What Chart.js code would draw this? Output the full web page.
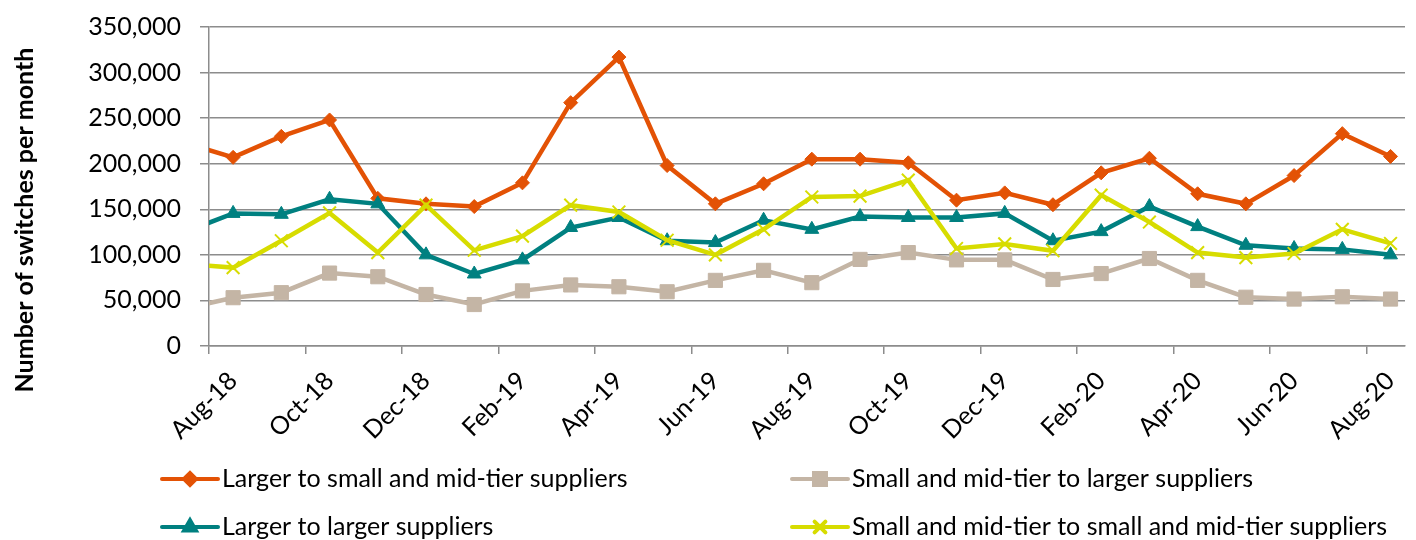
<!DOCTYPE html>
<html>
<head>
<meta charset="utf-8">
<script src="https://cdn.jsdelivr.net/npm/chart.js@4.4.1/dist/chart.umd.min.js"></script>
<style>
  html, body { margin: 0; padding: 0; background: #fff; }
  #wrap { width: 1416px; height: 540px; position: relative; }
</style>
</head>
<body>
<div id="wrap"><canvas id="myChart"></canvas></div>
<script>
// months of data (Jul-18 sits just left of the axis and gets clipped)
const months = ['Jul-18', 'Aug-18', 'Sep-18', 'Oct-18', 'Nov-18', 'Dec-18',
  'Jan-19', 'Feb-19', 'Mar-19', 'Apr-19', 'May-19', 'Jun-19', 'Jul-19', 'Aug-19',
  'Sep-19', 'Oct-19', 'Nov-19', 'Dec-19', 'Jan-20', 'Feb-20', 'Mar-20', 'Apr-20',
  'May-20', 'Jun-20', 'Jul-20', 'Aug-20'];

const largerToSmall = [223000, 207000, 230000, 248000, 162000, 156000, 153000, 179000,
  267000, 317000, 198000, 156000, 178000, 205000, 205000, 201000, 160000, 168000,
  155000, 190000, 206000, 167000, 156000, 187000, 233000, 208000];
const smallToLarger = [41000, 53000, 58500, 80000, 76000, 56500, 45500, 60500,
  67000, 65000, 59500, 72000, 83000, 69500, 95000, 102500, 94500, 94500,
  73000, 79500, 96000, 72000, 53500, 51500, 54000, 51500];
const largerToLarger = [125000, 145500, 144500, 161000, 156000, 100000, 79000, 94500,
  130000, 141000, 115500, 113500, 138000, 128000, 142000, 141000, 141000, 145500,
  115500, 125500, 153000, 131000, 110500, 107000, 106000, 100000];
const smallToSmall = [90000, 86000, 115500, 146000, 102500, 154500, 105000, 120500,
  154500, 147000, 116000, 100000, 128000, 163500, 164500, 182000, 107000, 112000,
  104500, 165500, 136000, 102500, 97000, 101500, 128000, 112500];

const tickLabels = ['Aug-18', 'Oct-18', 'Dec-18', 'Feb-19', 'Apr-19', 'Jun-19',
  'Aug-19', 'Oct-19', 'Dec-19', 'Feb-20', 'Apr-20', 'Jun-20', 'Aug-20'];
const seriesNames = ['Larger to small and mid-tier suppliers', 'Small and mid-tier to larger suppliers',
  'Larger to larger suppliers', 'Small and mid-tier to small and mid-tier suppliers'];

const FONT = 'Lato, "Liberation Sans", sans-serif';
const gridColor = '#8c8c8c';

// x axis is months since Aug-18 start, points sit mid-month
const toPoints = vals => vals.map((v, i) => ({ x: i - 1 + 0.5, y: v }));
const tickPos = tickLabels.map(l => months.indexOf(l) - 1);

function series(label, vals, color, style, radius, order) {
  return {
    label: label,
    data: toPoints(vals),
    borderColor: color,
    backgroundColor: color,
    borderWidth: 4.5,
    pointStyle: style,
    pointRadius: radius,
    pointHoverRadius: radius,
    pointBorderWidth: style === 'crossRot' ? 2 : 1,
    pointBackgroundColor: color,
    pointBorderColor: color,
    tension: 0,
    clip: 0,
    order: order
  };
}

const datasets = [
  series(seriesNames[0], largerToSmall, '#e35205', 'rectRot', 7, 3),
  series(seriesNames[1], smallToLarger, '#c4b5a5', 'rect', 10, 2),
  series(seriesNames[2], largerToLarger, '#008080', 'triangle', 8, 1),
  series(seriesNames[3], smallToSmall, '#d7dc00', 'crossRot', 9, 0)
];

// legend + rotated axis title drawn on the canvas
const extras = {
  id: 'extras',
  afterDraw(chart) {
    const ctx = chart.ctx;
    ctx.save();
    ctx.fillStyle = '#000';
    ctx.font = 'bold 25px ' + FONT;
    ctx.translate(25, 220);
    ctx.rotate(-Math.PI / 2);
    ctx.textAlign = 'center';
    ctx.textBaseline = 'middle';
    ctx.fillText('Number of switches per month', 0, 0);
    ctx.restore();

    const cols = [162, 792], rows = [479, 527];
    chart.data.datasets.forEach((ds, i) => {
      const x = cols[i % 2], y = rows[Math.floor(i / 2)];
      ctx.save();
      ctx.strokeStyle = ds.borderColor;
      ctx.fillStyle = ds.borderColor;
      ctx.lineWidth = 4;
      ctx.lineCap = 'round';
      ctx.beginPath();
      ctx.moveTo(x, y);
      ctx.lineTo(x + 56, y);
      ctx.stroke();
      Chart.helpers.drawPoint(ctx, {
        pointStyle: ds.pointStyle,
        radius: ds.pointRadius * 0.85,
        borderWidth: ds.pointBorderWidth
      }, x + 28, y);
      ctx.fillStyle = '#000';
      ctx.font = '25px ' + FONT;
      ctx.textBaseline = 'middle';
      ctx.fillText(ds.label, x + 60, y);
      ctx.restore();
    });
  }
};

let myChart = document.getElementById('myChart').getContext('2d');
let lineChart = new Chart(myChart, {
  type: 'line',
  data: { datasets: datasets },
  plugins: [extras],
  options: {
    responsive: true,
    maintainAspectRatio: false,
    animation: false,
    layout: { padding: { top: 27, right: 0, bottom: 94, left: 0 } },
    plugins: {
      legend: { display: false },
      tooltip: { enabled: false }
    },
    scales: {
      x: {
        type: 'linear',
        min: 0,
        max: 24.8,
        afterBuildTicks: axis => { axis.ticks = tickPos.map(v => ({ value: v })); },
        afterFit: axis => { axis.height = 100; },
        ticks: {
          autoSkip: false,
          minRotation: 45,
          maxRotation: 45,
          padding: 12,
          labelOffset: 24,
          color: '#000',
          font: { family: FONT, size: 25 },
          callback: (v, i) => tickLabels[i]
        },
        grid: { drawOnChartArea: false, color: gridColor, lineWidth: 1.5, tickLength: 8 },
        border: { color: gridColor, width: 1.5 }
      },
      y: {
        min: 0,
        max: 350000,
        afterFit: axis => {
          axis.width = 209;
          // tick padding would otherwise push the plot area down
          axis.paddingTop = 0;
          axis.paddingBottom = 0;
        },
        ticks: {
          stepSize: 50000,
          padding: 19,
          color: '#000',
          font: { family: FONT, size: 25 },
          callback: v => v.toLocaleString('en-US')
        },
        grid: { color: gridColor, lineWidth: 1.5, tickLength: 9 },
        border: { color: gridColor, width: 1.5 }
      }
    }
  }
});
</script>
</body>
</html>
